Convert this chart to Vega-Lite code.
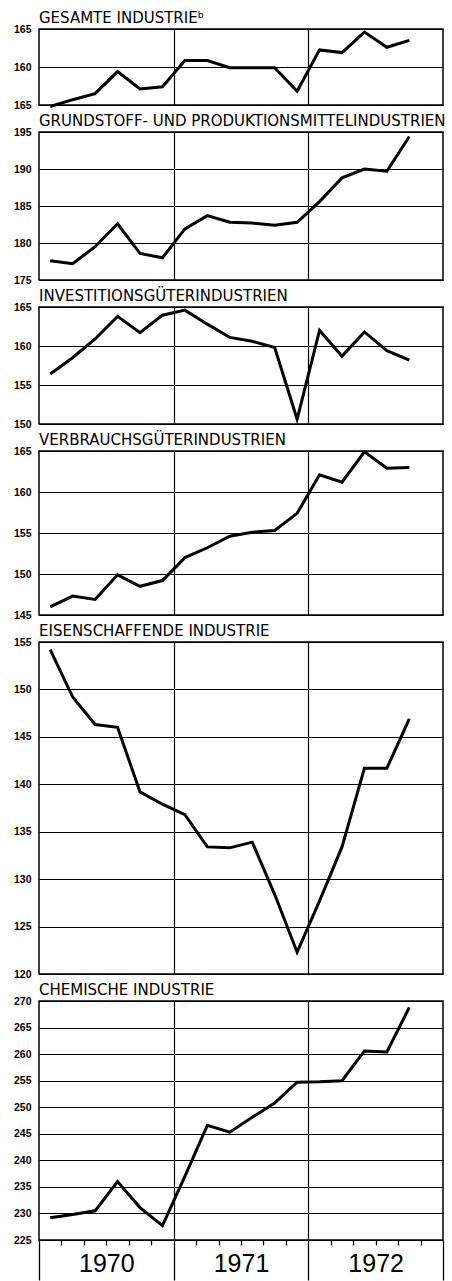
{
  "$schema": "https://vega.github.io/schema/vega-lite/v6.json",
  "background": "white",
  "padding": {"left": 12, "top": 10, "right": 0, "bottom": 0},
  "spacing": 27,
  "bounds": "flush",
  "config": {
    "view": {"stroke": "black", "strokeWidth": 1.5},
    "axis": {"gridColor": "black", "gridWidth": 1.2, "gridOpacity": 1, "domain": false, "ticks": false, "labelColor": "black"},
    "axisY": {"labelFont": "Liberation Sans", "labelFontSize": 10.5, "labelFontWeight": "bold", "labelPadding": 8},
    "title": {"anchor": "start", "frame": "group", "font": "DejaVu Sans", "fontSize": 15, "fontWeight": "normal", "color": "black", "offset": -2},
    "line": {"color": "black", "strokeWidth": 3}
  },
  "vconcat": [
    {
      "title": "GESAMTE INDUSTRIEᵇ",
      "width": 404, "height": 76,
      "data": {"values": [
        {"t": 0.5, "v": 154.8}, {"t": 1.5, "v": 155.7}, {"t": 2.5, "v": 156.5}, {"t": 3.5, "v": 159.4},
        {"t": 4.5, "v": 157.1}, {"t": 5.5, "v": 157.4}, {"t": 6.5, "v": 160.85}, {"t": 7.5, "v": 160.85},
        {"t": 8.5, "v": 159.9}, {"t": 9.5, "v": 159.9}, {"t": 10.5, "v": 159.9}, {"t": 11.5, "v": 156.8},
        {"t": 12.5, "v": 162.25}, {"t": 13.5, "v": 161.9}, {"t": 14.5, "v": 164.6}, {"t": 15.5, "v": 162.6},
        {"t": 16.5, "v": 163.5}
      ]},
      "mark": {"type": "line", "clip": false},
      "encoding": {
        "x": {"field": "t", "type": "quantitative", "scale": {"domain": [0, 18], "nice": false, "zero": false},
              "axis": {"values": [6, 12], "grid": true, "labels": false, "title": null}},
        "y": {"field": "v", "type": "quantitative", "scale": {"domain": [155, 165], "nice": false, "zero": false},
              "axis": {"values": [155, 160, 165], "grid": true, "title": null, "labelExpr": "datum.value == 155 ? '165' : datum.label"}}
      }
    },
    {
      "title": "GRUNDSTOFF- UND PRODUKTIONSMITTELINDUSTRIEN",
      "width": 404, "height": 148,
      "data": {"values": [
        {"t": 0.5, "v": 177.6}, {"t": 1.5, "v": 177.2}, {"t": 2.5, "v": 179.5}, {"t": 3.5, "v": 182.6},
        {"t": 4.5, "v": 178.6}, {"t": 5.5, "v": 178.0}, {"t": 6.5, "v": 181.9}, {"t": 7.5, "v": 183.7},
        {"t": 8.5, "v": 182.8}, {"t": 9.5, "v": 182.7}, {"t": 10.5, "v": 182.4}, {"t": 11.5, "v": 182.8},
        {"t": 12.5, "v": 185.6}, {"t": 13.5, "v": 188.8}, {"t": 14.5, "v": 190.0}, {"t": 15.5, "v": 189.7},
        {"t": 16.5, "v": 194.4}
      ]},
      "mark": {"type": "line", "clip": false},
      "encoding": {
        "x": {"field": "t", "type": "quantitative", "scale": {"domain": [0, 18], "nice": false, "zero": false},
              "axis": {"values": [6, 12], "grid": true, "labels": false, "title": null}},
        "y": {"field": "v", "type": "quantitative", "scale": {"domain": [175, 195], "nice": false, "zero": false},
              "axis": {"values": [175, 180, 185, 190, 195], "grid": true, "title": null}}
      }
    },
    {
      "title": "INVESTITIONSGÜTERINDUSTRIEN",
      "width": 404, "height": 117,
      "data": {"values": [
        {"t": 0.5, "v": 156.4}, {"t": 1.5, "v": 158.5}, {"t": 2.5, "v": 160.9}, {"t": 3.5, "v": 163.8},
        {"t": 4.5, "v": 161.7}, {"t": 5.5, "v": 163.95}, {"t": 6.5, "v": 164.6}, {"t": 7.5, "v": 162.8},
        {"t": 8.5, "v": 161.1}, {"t": 9.5, "v": 160.6}, {"t": 10.5, "v": 159.8}, {"t": 11.5, "v": 150.6},
        {"t": 12.5, "v": 162.0}, {"t": 13.5, "v": 158.7}, {"t": 14.5, "v": 161.8}, {"t": 15.5, "v": 159.4},
        {"t": 16.5, "v": 158.2}
      ]},
      "mark": {"type": "line", "clip": false},
      "encoding": {
        "x": {"field": "t", "type": "quantitative", "scale": {"domain": [0, 18], "nice": false, "zero": false},
              "axis": {"values": [6, 12], "grid": true, "labels": false, "title": null}},
        "y": {"field": "v", "type": "quantitative", "scale": {"domain": [150, 165], "nice": false, "zero": false},
              "axis": {"values": [150, 155, 160, 165], "grid": true, "title": null}}
      }
    },
    {
      "title": "VERBRAUCHSGÜTERINDUSTRIEN",
      "width": 404, "height": 164,
      "data": {"values": [
        {"t": 0.5, "v": 146.0}, {"t": 1.5, "v": 147.3}, {"t": 2.5, "v": 146.9}, {"t": 3.5, "v": 149.9},
        {"t": 4.5, "v": 148.5}, {"t": 5.5, "v": 149.2}, {"t": 6.5, "v": 152.0}, {"t": 7.5, "v": 153.2},
        {"t": 8.5, "v": 154.6}, {"t": 9.5, "v": 155.1}, {"t": 10.5, "v": 155.3}, {"t": 11.5, "v": 157.4},
        {"t": 12.5, "v": 162.1}, {"t": 13.5, "v": 161.2}, {"t": 14.5, "v": 164.9}, {"t": 15.5, "v": 162.9},
        {"t": 16.5, "v": 163.0}
      ]},
      "mark": {"type": "line", "clip": false},
      "encoding": {
        "x": {"field": "t", "type": "quantitative", "scale": {"domain": [0, 18], "nice": false, "zero": false},
              "axis": {"values": [6, 12], "grid": true, "labels": false, "title": null}},
        "y": {"field": "v", "type": "quantitative", "scale": {"domain": [145, 165], "nice": false, "zero": false},
              "axis": {"values": [145, 150, 155, 160, 165], "grid": true, "title": null}}
      }
    },
    {
      "title": "EISENSCHAFFENDE INDUSTRIE",
      "width": 404, "height": 332,
      "data": {"values": [
        {"t": 0.5, "v": 154.2}, {"t": 1.5, "v": 149.2}, {"t": 2.5, "v": 146.3}, {"t": 3.5, "v": 146.0},
        {"t": 4.5, "v": 139.2}, {"t": 5.5, "v": 137.9}, {"t": 6.5, "v": 136.8}, {"t": 7.5, "v": 133.4},
        {"t": 8.5, "v": 133.3}, {"t": 9.5, "v": 133.9}, {"t": 10.5, "v": 128.4}, {"t": 11.5, "v": 122.3},
        {"t": 12.5, "v": 127.7}, {"t": 13.5, "v": 133.4}, {"t": 14.5, "v": 141.7}, {"t": 15.5, "v": 141.7},
        {"t": 16.5, "v": 146.9}
      ]},
      "mark": {"type": "line", "clip": false},
      "encoding": {
        "x": {"field": "t", "type": "quantitative", "scale": {"domain": [0, 18], "nice": false, "zero": false},
              "axis": {"values": [6, 12], "grid": true, "labels": false, "title": null}},
        "y": {"field": "v", "type": "quantitative", "scale": {"domain": [120, 155], "nice": false, "zero": false},
              "axis": {"values": [120, 125, 130, 135, 140, 145, 150, 155], "grid": true, "title": null}}
      }
    },
    {
      "title": "CHEMISCHE INDUSTRIE",
      "width": 404, "height": 239,
      "data": {"values": [
        {"t": 0.5, "v": 229.2}, {"t": 1.5, "v": 229.8}, {"t": 2.5, "v": 230.5}, {"t": 3.5, "v": 236.0},
        {"t": 4.5, "v": 231.1}, {"t": 5.5, "v": 227.7}, {"t": 6.5, "v": 237.0}, {"t": 7.5, "v": 246.6},
        {"t": 8.5, "v": 245.3}, {"t": 9.5, "v": 248.1}, {"t": 10.5, "v": 250.8}, {"t": 11.5, "v": 254.7},
        {"t": 12.5, "v": 254.8}, {"t": 13.5, "v": 255.0}, {"t": 14.5, "v": 260.6}, {"t": 15.5, "v": 260.4},
        {"t": 16.5, "v": 268.8}
      ]},
      "mark": {"type": "line", "clip": false},
      "encoding": {
        "x": {"field": "t", "type": "quantitative", "scale": {"domain": [0, 18], "nice": false, "zero": false},
              "axis": {"values": [0, 1, 2, 3, 4, 5, 6, 7, 8, 9, 10, 11, 12, 13, 14, 15, 16, 17, 18],
                       "grid": true, "title": null,
                       "gridOpacity": {"condition": {"test": "datum.value == 6 || datum.value == 12", "value": 1}, "value": 0},
                       "ticks": true, "tickColor": "black", "tickWidth": 1.3,
                       "tickSize": {"condition": {"test": "datum.value % 6 == 0", "value": 40}, "value": 5},
                       "labelExpr": "datum.value == 3 ? '1970' : datum.value == 9 ? '1971' : datum.value == 15 ? '1972' : ''",
                       "labelFont": "Liberation Sans", "labelFontSize": 25, "labelPadding": 6,
                       "labelOverlap": false, "labelBound": false, "labelFlush": false}},
        "y": {"field": "v", "type": "quantitative", "scale": {"domain": [225, 270], "nice": false, "zero": false},
              "axis": {"values": [225, 230, 235, 240, 245, 250, 255, 260, 265, 270], "grid": true, "title": null}}
      }
    }
  ]
}
